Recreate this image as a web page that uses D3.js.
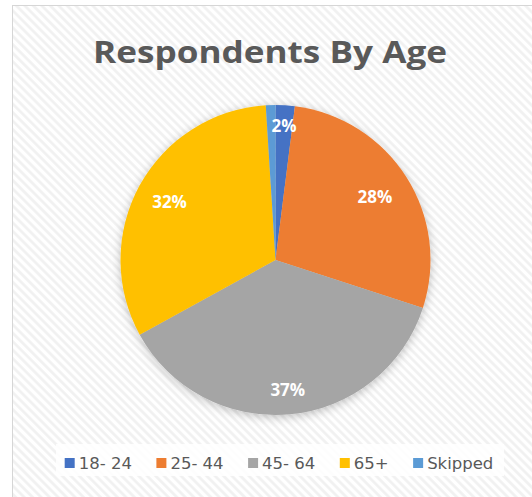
<!DOCTYPE html>
<html>
<head>
<meta charset="utf-8">
<script src="https://cdn.jsdelivr.net/npm/d3@7/dist/d3.min.js"></script>
<style>
  html, body { margin: 0; padding: 0; background: #ffffff; }
  svg { display: block; }
</style>
</head>
<body>
<div id="chart"></div>
<script>
// Survey respondents split by age group (percent of all respondents)
const categories = ["18- 24", "25- 44", "45- 64", "65+", "Skipped"];
const shares = [2, 28, 37, 32, 1];
const colors = ["#4472C4", "#ED7D31", "#A5A5A5", "#FFC000", "#5B9BD5"];
const titleText = "Respondents By Age";

const W = 532, H = 497;
const svg = d3.select("#chart").append("svg")
  .attr("width", W).attr("height", H);

const defs = svg.append("defs");

// Light diagonal hatching for the chart area
const pat = defs.append("pattern")
  .attr("id", "hatch")
  .attr("patternUnits", "userSpaceOnUse")
  .attr("width", 6).attr("height", 6)
  .attr("patternTransform", "rotate(-45)");
pat.append("rect").attr("width", 6).attr("height", 6).attr("fill", "#ffffff");
pat.append("line")
  .attr("x1", 1.5).attr("y1", 0).attr("x2", 1.5).attr("y2", 6)
  .attr("stroke", "#f0f0f0").attr("stroke-width", 2.5);

// Soft halo under the pie
const shadow = defs.append("filter").attr("id", "pieShadow")
  .attr("x", "-20%").attr("y", "-20%").attr("width", "140%").attr("height", "140%");
shadow.append("feDropShadow")
  .attr("dx", 0).attr("dy", 2).attr("stdDeviation", 5)
  .attr("flood-color", "#000").attr("flood-opacity", 0.25);

// Chart frame (runs past the right and bottom edges)
svg.append("rect")
  .attr("x", 12.5).attr("y", 5.5)
  .attr("width", W + 20).attr("height", H + 20)
  .attr("fill", "url(#hatch)")
  .attr("stroke", "#d6d6d6").attr("stroke-width", 1);

// Title
svg.append("text")
  .attr("x", 270).attr("y", 63)
  .attr("text-anchor", "middle")
  .attr("font-family", "'Open Sans', sans-serif")
  .attr("font-weight", 700)
  .attr("font-size", 30)
  .attr("fill", "#595959")
  .attr("textLength", 354)
  .attr("lengthAdjust", "spacingAndGlyphs")
  .text(titleText);

// Pie
const cx = 275.5, cy = 260, R = 155;
const data = categories.map((c, i) => ({ cat: c, value: shares[i], color: colors[i] }));
const pie = d3.pie().value(d => d.value).sort(null);
const arcs = pie(data);
const arc = d3.arc().innerRadius(0).outerRadius(R);

const g = svg.append("g").attr("transform", `translate(${cx},${cy})`);
g.append("g").attr("filter", "url(#pieShadow)")
  .selectAll("path")
  .data(arcs)
  .join("path")
  .attr("d", arc)
  .attr("fill", d => d.data.color);

// Data labels placed along each slice's mid-angle
const labelRadiusFrac = { "18- 24": 0.87, "25- 44": 0.76, "45- 64": 0.84, "65+": 0.78 };
g.append("g")
  .selectAll("text")
  .data(arcs.filter(d => d.data.cat in labelRadiusFrac))
  .join("text")
  .attr("transform", d => {
    const r = R * labelRadiusFrac[d.data.cat];
    const a = (d.startAngle + d.endAngle) / 2;
    return `translate(${r * Math.sin(a)},${-r * Math.cos(a)})`;
  })
  .attr("text-anchor", "middle")
  .attr("dy", "0.36em")
  .attr("font-family", "'Open Sans', sans-serif")
  .attr("font-weight", 700)
  .attr("font-size", 17)
  .attr("fill", "#ffffff")
  .text(d => d.data.value + "%");

// Legend
const legY = 463;
svg.append("rect")
  .attr("x", 56).attr("y", 444).attr("width", 448).attr("height", 32)
  .attr("fill", "#ffffff").attr("fill-opacity", 0.85);

const leg = svg.append("g");
const items = leg.selectAll("g").data(data).join("g");
items.append("rect")
  .attr("width", 10).attr("height", 10)
  .attr("y", legY - 5)
  .attr("fill", d => d.color);
items.append("text")
  .attr("x", 14).attr("y", legY)
  .attr("dy", "0.36em")
  .attr("font-family", "'DejaVu Sans', sans-serif")
  .attr("font-size", 16.5)
  .attr("fill", "#595959")
  .text(d => d.cat);

// Lay the legend entries out left to right, centred under the pie
const gap = 24.5;
let widths = [];
items.each(function() { widths.push(this.getBBox().width); });
const total = d3.sum(widths) + gap * (widths.length - 1);
let x0 = 279 - total / 2;
items.attr("transform", (d, i) => {
  const t = `translate(${x0},0)`;
  x0 += widths[i] + gap;
  return t;
});
</script>
</body>
</html>
